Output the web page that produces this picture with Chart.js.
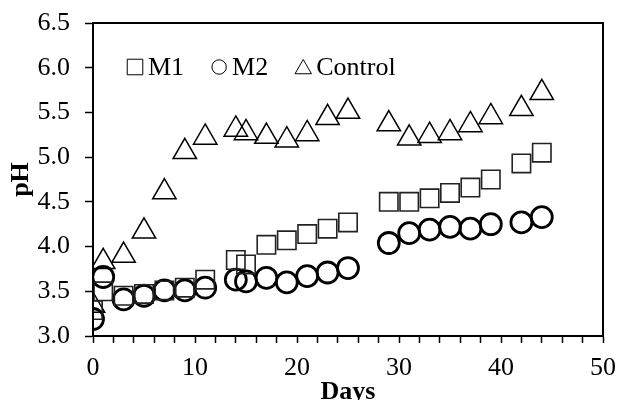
<!DOCTYPE html>
<html>
<head>
<meta charset="utf-8">
<script src="https://cdn.jsdelivr.net/npm/chart.js@4/dist/chart.umd.min.js"></script>
<style>
  html, body { margin: 0; padding: 0; background: #fff; }
  #wrap { width: 618px; height: 400px; }
</style>
</head>
<body>
<div id="wrap"><canvas id="c" width="618" height="400"></canvas></div>
<script>
const DAYS = [0, 1, 3, 5, 7, 9, 11, 14, 15, 17, 19, 21, 23, 25, 29, 31, 33, 35, 37, 39, 42, 44];
const M1 = [3.29, 3.50, 3.45, 3.47, 3.51, 3.54, 3.63, 3.85, 3.80, 4.02, 4.07, 4.14, 4.20, 4.27, 4.50, 4.50, 4.54, 4.60, 4.66, 4.75, 4.93, 5.05];
const M2 = [3.19, 3.66, 3.41, 3.45, 3.51, 3.51, 3.54, 3.63, 3.61, 3.65, 3.60, 3.67, 3.71, 3.76, 4.04, 4.15, 4.19, 4.22, 4.20, 4.25, 4.27, 4.33];
const CONTROL = [3.34, 3.83, 3.90, 4.17, 4.61, 5.06, 5.22, 5.31, 5.27, 5.23, 5.19, 5.26, 5.44, 5.51, 5.37, 5.21, 5.24, 5.27, 5.36, 5.45, 5.54, 5.72];

const X_RANGE = [0, 50];
const Y_RANGE = [3.0, 6.5];

const FONT = 'Liberation Serif, Times New Roman, serif';

function pts(values) {
  return DAYS.map((day, index) => ({ x: day, y: values[index] }));
}

// legend sits inside the plot box, top left
const innerLegend = {
  id: 'innerLegend',
  afterDraw(chart) {
    const { ctx } = chart;
    const marks = [
      { style: 'rect', radius: 11, width: 1.4 },
      { style: 'circle', radius: 7.2, width: 2.6 },
      { style: 'triangle', radius: 9.5, width: 1.3 },
    ];
    let x = 135;
    const y = 67;
    ctx.save();
    ctx.font = `26px ${FONT}`;
    ctx.textBaseline = 'alphabetic';
    chart.data.datasets.forEach((dataset, index) => {
      const mark = marks[index];
      ctx.strokeStyle = '#000';
      ctx.fillStyle = 'rgba(0,0,0,0)';
      Chart.helpers.drawPoint(ctx, { pointStyle: mark.style, radius: mark.radius, borderWidth: mark.width }, x, mark.style === 'triangle' ? y + 2 : y);
      ctx.fillStyle = '#000';
      ctx.fillText(dataset.label, x + 13, 75);
      x += 13 + ctx.measureText(dataset.label).width + 35;
    });
    ctx.restore();
  },
};

const frame = {
  id: 'frame',
  afterDraw(chart) {
    const { ctx, chartArea: a } = chart;
    ctx.save();
    ctx.strokeStyle = '#000';
    ctx.lineWidth = 2;
    ctx.strokeRect(a.left, a.top, a.right - a.left, a.bottom - a.top);
    ctx.restore();
  },
};

new Chart(document.getElementById('c'), {
  type: 'scatter',
  data: {
    datasets: [
      {
        label: 'M1',
        data: pts(M1),
        pointStyle: 'rect',
        radius: 13,
        borderWidth: 1.6,
        borderColor: '#222',
        backgroundColor: 'rgba(0,0,0,0)',
      },
      {
        label: 'M2',
        data: pts(M2),
        pointStyle: 'circle',
        radius: 10.5,
        borderWidth: 2.8,
        borderColor: '#000',
        backgroundColor: 'rgba(0,0,0,0)',
      },
      {
        label: 'Control',
        data: pts(CONTROL),
        pointStyle: 'triangle',
        radius: 13.5,
        borderWidth: 1.5,
        borderColor: '#000',
        backgroundColor: 'rgba(0,0,0,0)',
      },
    ],
  },
  options: {
    responsive: false,
    animation: false,
    events: [],
    layout: { padding: { left: 0, right: 15, top: 23, bottom: 0 } },
    plugins: { legend: { display: false }, tooltip: { enabled: false } },
    scales: {
      x: {
        type: 'linear',
        min: X_RANGE[0],
        max: X_RANGE[1],
        afterFit(scale) {
          scale.height = 64;
          scale.paddingLeft = 0;
          scale.paddingRight = 0;
        },
        border: { display: true, color: '#000', width: 2 },
        grid: { display: true, drawOnChartArea: false, tickLength: 7, tickColor: '#000', tickWidth: 1.5 },
        ticks: {
          stepSize: 2,
          autoSkip: false,
          maxRotation: 0,
          padding: 10,
          color: '#000',
          font: { family: FONT, size: 26 },
          callback: (value) => (value % 10 === 0 ? value : ''),
        },
        title: {
          display: true,
          text: 'Days',
          color: '#000',
          font: { family: FONT, size: 26, weight: 'bold', lineHeight: 0.6 },
          padding: 0,
        },
      },
      y: {
        type: 'linear',
        min: Y_RANGE[0],
        max: Y_RANGE[1],
        afterFit(scale) {
          scale.width = 93;
          scale.paddingTop = 0;
          scale.paddingBottom = 0;
        },
        border: { display: true, color: '#000', width: 2 },
        grid: { display: true, drawOnChartArea: false, tickLength: 8, tickColor: '#000', tickWidth: 1.5 },
        ticks: {
          stepSize: 0.5,
          padding: 15,
          color: '#000',
          font: { family: FONT, size: 26 },
          callback: (value) => Number(value).toFixed(1),
        },
        title: {
          display: true,
          text: 'pH',
          color: '#000',
          font: { family: FONT, size: 26, weight: 'bold', lineHeight: 1.2 },
          padding: { top: 6, bottom: 0 },
        },
      },
    },
  },
  plugins: [innerLegend, frame],
});
</script>
</body>
</html>
